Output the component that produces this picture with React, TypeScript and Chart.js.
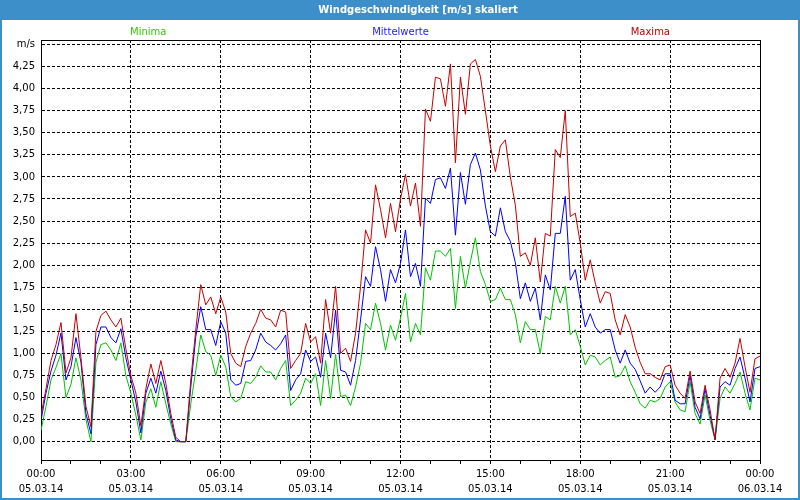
import React, { useEffect, useRef } from 'react';
import { Chart, registerables } from 'chart.js';

Chart.register(...registerables);

// ---- data (10-minute values, 05.03.14 00:00 .. 06.03.14 00:00) ----
const TITLE = 'Windgeschwindigkeit [m/s] skaliert';
const UNIT_LABEL = 'm/s';
const STEP_MINUTES = 10;

const MAXIMA = [
  0.30, 0.60, 0.92, 1.10, 1.35, 0.78, 0.95, 1.45, 0.95, 0.40,
  0.17, 1.25, 1.43, 1.48, 1.38, 1.30, 1.40, 1.05, 0.75, 0.55,
  0.18, 0.60, 0.88, 0.66, 0.92, 0.66, 0.32, 0.05, 0.00, 0.00,
  0.70, 1.27, 1.78, 1.55, 1.64, 1.45, 1.64, 1.47, 1.00, 0.89,
  0.85, 1.08, 1.23, 1.34, 1.50, 1.40, 1.38, 1.30, 1.49, 1.47,
  0.83, 0.92, 1.00, 1.34, 1.13, 1.19, 0.89, 1.61, 1.23, 1.76,
  1.00, 1.06, 0.91, 1.23, 1.76, 2.40, 2.25, 2.91, 2.63, 2.31,
  2.70, 2.38, 2.75, 3.03, 2.67, 2.93, 2.44, 3.77, 3.63, 4.13,
  4.11, 3.80, 4.28, 3.16, 4.13, 3.71, 4.28, 4.33, 4.14, 3.75,
  3.35, 3.06, 3.35, 3.42, 3.00, 2.68, 2.10, 2.14, 2.00, 2.31,
  1.81, 2.36, 2.33, 3.31, 3.22, 3.75, 2.55, 2.59, 2.25, 1.83,
  2.06, 1.80, 1.57, 1.70, 1.68, 1.38, 1.21, 1.44, 1.30, 1.07,
  0.90, 0.77, 0.77, 0.73, 0.70, 0.85, 0.87, 0.64, 0.55, 0.49,
  0.80, 0.45, 0.32, 0.64, 0.36, 0.02, 0.72, 0.83, 0.73, 0.89,
  1.17, 0.85, 0.56, 0.94, 0.97,
];

const MITTELWERTE = [
  0.24, 0.55, 0.80, 0.98, 1.23, 0.70, 0.85, 1.18, 0.90, 0.32,
  0.09, 1.10, 1.30, 1.30, 1.18, 1.12, 1.28, 0.95, 0.70, 0.45,
  0.10, 0.55, 0.72, 0.55, 0.80, 0.58, 0.26, 0.02, 0.00, 0.00,
  0.62, 1.19, 1.53, 1.27, 1.27, 1.09, 1.36, 1.23, 0.70, 0.64,
  0.66, 0.91, 0.92, 1.04, 1.23, 1.13, 1.09, 1.04, 1.11, 1.21,
  0.58, 0.70, 0.77, 1.04, 0.91, 0.96, 0.73, 1.23, 0.95, 1.49,
  0.81, 0.79, 0.64, 0.92, 1.38, 1.87, 1.76, 2.21, 1.95, 1.59,
  1.95, 1.80, 2.02, 2.40, 1.87, 2.02, 1.76, 2.76, 2.70, 2.97,
  2.99, 2.87, 3.10, 2.34, 3.05, 2.69, 3.14, 3.27, 3.08, 2.67,
  2.38, 2.33, 2.65, 2.38, 2.27, 2.03, 1.62, 1.80, 1.59, 1.74,
  1.38, 1.89, 1.72, 2.36, 2.36, 2.78, 1.83, 1.95, 1.61, 1.30,
  1.45, 1.30, 1.23, 1.27, 1.27, 1.04, 0.89, 1.04, 0.89, 0.82,
  0.69, 0.55, 0.62, 0.56, 0.62, 0.77, 0.77, 0.47, 0.43, 0.43,
  0.75, 0.39, 0.26, 0.60, 0.30, 0.03, 0.62, 0.68, 0.64, 0.83,
  0.96, 0.72, 0.45, 0.83, 0.85,
];

const MINIMA = [
  0.13, 0.40, 0.70, 0.84, 1.00, 0.50, 0.65, 0.95, 0.70, 0.25,
  0.00, 0.90, 1.10, 1.12, 1.04, 0.92, 1.12, 0.75, 0.55, 0.30,
  0.02, 0.45, 0.60, 0.39, 0.68, 0.43, 0.20, 0.00, 0.00, 0.00,
  0.43, 0.81, 1.21, 1.02, 0.98, 0.75, 0.98, 0.85, 0.51, 0.45,
  0.49, 0.68, 0.66, 0.73, 0.86, 0.79, 0.79, 0.70, 0.83, 0.92,
  0.41, 0.47, 0.55, 0.72, 0.66, 0.77, 0.41, 0.92, 0.49, 0.99,
  0.51, 0.53, 0.41, 0.62, 0.89, 1.34, 1.27, 1.57, 1.34, 1.04,
  1.32, 1.15, 1.40, 1.68, 1.13, 1.34, 1.21, 1.97, 1.83, 2.16,
  2.16, 2.10, 2.19, 1.51, 2.10, 1.74, 2.04, 2.31, 1.93, 1.78,
  1.59, 1.61, 1.74, 1.61, 1.61, 1.44, 1.12, 1.36, 1.27, 1.27,
  1.00, 1.42, 1.38, 1.76, 1.57, 1.76, 1.21, 1.27, 1.08, 0.87,
  0.98, 0.96, 0.87, 0.92, 0.96, 0.73, 0.75, 0.86, 0.68, 0.56,
  0.43, 0.38, 0.47, 0.45, 0.49, 0.62, 0.68, 0.45, 0.36, 0.34,
  0.68, 0.32, 0.20, 0.53, 0.24, 0.02, 0.49, 0.62, 0.55, 0.66,
  0.79, 0.55, 0.36, 0.72, 0.70,
];

// x axis: tick every hour (minutes), labels every 3 hours
const X_HOUR_TICKS = [
  0, 60, 120, 180, 240, 300, 360, 420, 480, 540, 600, 660, 720,
  780, 840, 900, 960, 1020, 1080, 1140, 1200, 1260, 1320, 1380, 1440,
];
const X_MAJOR_MINUTES = [0, 180, 360, 540, 720, 900, 1080, 1260, 1440];
const X_MAJOR_TIMES = ['00:00', '03:00', '06:00', '09:00', '12:00', '15:00', '18:00', '21:00', '00:00'];
const X_MAJOR_DATES = ['05.03.14', '05.03.14', '05.03.14', '05.03.14', '05.03.14', '05.03.14', '05.03.14', '05.03.14', '06.03.14'];

const Y_TICKS = [
  0, 0.25, 0.5, 0.75, 1, 1.25, 1.5, 1.75, 2, 2.25, 2.5, 2.75, 3,
  3.25, 3.5, 3.75, 4, 4.25, 4.5,
];
const Y_TOP_TICK = 4.5;

const SERIES_LABELS = ['Maxima', 'Mittelwerte', 'Minima'];

// ---- styles ----
const FONT = 'DejaVu Sans';
const COLOR_MAX = '#c80000';
const COLOR_MEAN = '#0000ff';
const COLOR_MIN = '#00c400';
const LEGEND_COLOR_MIN = '#33cc00';
const LEGEND_COLOR_MEAN = '#1a1aff';
const LEGEND_COLOR_MAX = '#c00000';
const FRAME_BLUE = '#3c8fc8';

const toPoints = (arr: number[]) => arr.map((v, i) => ({ x: i * STEP_MINUTES, y: v }));

const decorPlugin = {
  id: 'decor',
  beforeDraw(chart: any) {
    const { ctx, width, height } = chart;
    ctx.save();
    ctx.fillStyle = '#ffffff';
    ctx.fillRect(0, 0, width, height);
    ctx.fillStyle = FRAME_BLUE;
    ctx.fillRect(0, 0, width, 20);
    ctx.fillRect(0, 0, 2, height);
    ctx.fillRect(width - 2, 0, 2, height);
    ctx.fillRect(0, height - 2, width, 2);
    ctx.fillStyle = '#ffffff';
    ctx.font = `bold 10px ${FONT}`;
    ctx.textAlign = 'center';
    ctx.textBaseline = 'middle';
    ctx.fillText(TITLE, 418, 10);
    ctx.restore();
  },
  afterDraw(chart: any) {
    const { ctx, chartArea } = chart;
    ctx.save();
    // frame top + right
    ctx.strokeStyle = '#000000';
    ctx.lineWidth = 1;
    ctx.beginPath();
    ctx.moveTo(Math.round(chartArea.left) + 0.5, Math.round(chartArea.top) + 0.5);
    ctx.lineTo(Math.round(chartArea.right) + 0.5, Math.round(chartArea.top) + 0.5);
    ctx.lineTo(Math.round(chartArea.right) + 0.5, Math.round(chartArea.bottom) + 0.5);
    ctx.stroke();
    // series labels
    ctx.font = `10px ${FONT}`;
    ctx.textBaseline = 'middle';
    const y = 32;
    ctx.fillStyle = LEGEND_COLOR_MIN;
    ctx.textAlign = 'left';
    ctx.fillText(SERIES_LABELS[2], chartArea.left + 89, y);
    ctx.fillStyle = LEGEND_COLOR_MEAN;
    ctx.textAlign = 'center';
    ctx.fillText(SERIES_LABELS[1], (chartArea.left + chartArea.right) / 2, y);
    ctx.fillStyle = LEGEND_COLOR_MAX;
    ctx.textAlign = 'right';
    ctx.fillText(SERIES_LABELS[0], chartArea.right - 90, y);
    ctx.restore();
  },
};

export default function App() {
  const canvasRef = useRef<HTMLCanvasElement | null>(null);

  useEffect(() => {
    document.body.style.margin = '0';
    const canvas = canvasRef.current;
    if (!canvas) return;
    const chart = new Chart(canvas, {
      type: 'line',
      data: {
        datasets: [
          { label: SERIES_LABELS[0], data: toPoints(MAXIMA), borderColor: COLOR_MAX, borderWidth: 1, pointRadius: 0, tension: 0, fill: false },
          { label: SERIES_LABELS[1], data: toPoints(MITTELWERTE), borderColor: COLOR_MEAN, borderWidth: 1, pointRadius: 0, tension: 0, fill: false },
          { label: SERIES_LABELS[2], data: toPoints(MINIMA), borderColor: COLOR_MIN, borderWidth: 1, pointRadius: 0, tension: 0, fill: false },
        ],
      },
      options: {
        animation: false,
        responsive: false,
        devicePixelRatio: 1,
        layout: { padding: { top: 40, right: 40, left: 0, bottom: 0 } },
        plugins: {
          legend: { display: false },
          title: { display: false },
          tooltip: { enabled: false },
        },
        scales: {
          x: {
            type: 'linear',
            min: 0,
            max: 1440,
            offset: false,
            afterBuildTicks: (scale: any) => {
              scale.ticks = X_HOUR_TICKS.map((v) => ({ value: v }));
            },
            afterFit: (scale: any) => {
              scale.height = 40;
            },
            ticks: {
              autoSkip: false,
              maxRotation: 0,
              minRotation: 0,
              padding: 3,
              color: '#000000',
              font: { family: FONT, size: 10, lineHeight: '15px' as any },
              callback: (value: any) => {
                const idx = X_MAJOR_MINUTES.indexOf(Number(value));
                return idx >= 0 ? [X_MAJOR_TIMES[idx], X_MAJOR_DATES[idx]] : '';
              },
            },
            grid: {
              color: (ctx: any) =>
                ctx.tick && X_MAJOR_MINUTES.indexOf(ctx.tick.value) >= 0 ? '#000000' : 'rgba(0,0,0,0)',
              tickColor: '#000000',
              tickLength: 4,
              lineWidth: 1,
            },
            border: { display: true, color: '#000000', width: 1, dash: [3, 2] },
          },
          y: {
            type: 'linear',
            min: -0.207,
            max: 4.551,
            afterBuildTicks: (scale: any) => {
              scale.ticks = Y_TICKS.map((v) => ({ value: v }));
            },
            afterFit: (scale: any) => {
              scale.width = 41;
            },
            ticks: {
              autoSkip: false,
              padding: 6,
              color: '#000000',
              font: { family: FONT, size: 10 },
              callback: (value: any) =>
                Math.abs(Number(value) - Y_TOP_TICK) < 1e-6
                  ? UNIT_LABEL
                  : Number(value).toFixed(2).replace('.', ','),
            },
            grid: { color: '#000000', drawTicks: false, lineWidth: 1 },
            border: { display: true, color: '#000000', width: 1, dash: [3, 2] },
          },
        },
      },
      plugins: [decorPlugin],
    } as any);
    return () => chart.destroy();
  }, []);

  return (
    <div style={{ position: 'absolute', left: 0, top: 0, width: 800, height: 500 }}>
      <canvas ref={canvasRef} width={800} height={500} style={{ display: 'block', width: 800, height: 500 }} />
    </div>
  );
}
